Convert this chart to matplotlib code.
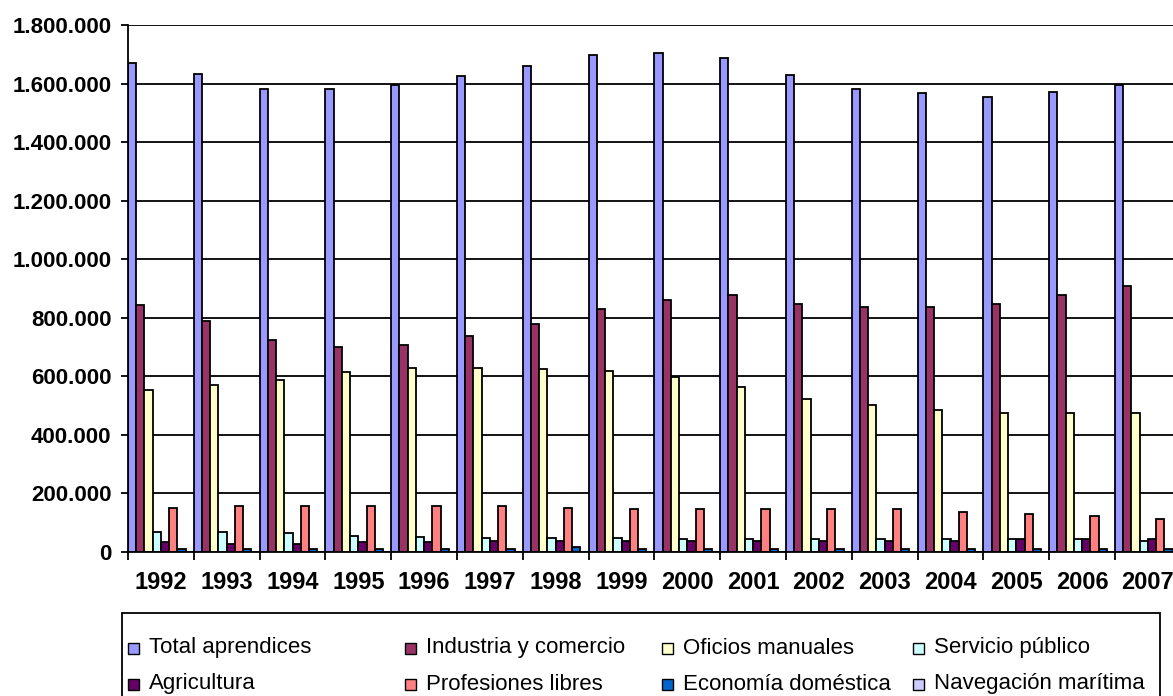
import numpy as np
import matplotlib
matplotlib.use("Agg")
import matplotlib.pyplot as plt
from matplotlib.patches import Rectangle

years = ["1992", "1993", "1994", "1995", "1996", "1997", "1998", "1999",
         "2000", "2001", "2002", "2003", "2004", "2005", "2006", "2007"]

series_names = ["Total aprendices", "Industria y comercio", "Oficios manuales",
                "Servicio público", "Agricultura", "Profesiones libres",
                "Economía doméstica", "Navegación marítima"]

total_aprendices = [1671000, 1633000, 1583000, 1583000, 1594000, 1627000, 1660000, 1699000,
                    1704000, 1688000, 1629000, 1583000, 1567000, 1556000, 1573000, 1594000]
industria_comercio = [843000, 788000, 723000, 701000, 706000, 738000, 777000, 831000,
                      859000, 877000, 848000, 838000, 838000, 848000, 877000, 909000]
oficios_manuales = [553000, 569000, 586000, 613000, 629000, 629000, 624000, 619000,
                    596000, 564000, 523000, 503000, 485000, 474000, 474000, 474000]
servicio_publico = [69000, 69000, 64000, 54000, 49000, 47000, 47000, 47000,
                    43000, 43000, 43000, 43000, 43000, 43000, 43000, 37000]
agricultura = [32000, 26000, 26000, 32000, 32000, 37000, 37000, 37000,
               37000, 37000, 37000, 38000, 37000, 43000, 43000, 43000]
profesiones_libres = [150000, 156000, 156000, 156000, 156000, 155000, 150000, 146000,
                      145000, 145000, 145000, 145000, 135000, 129000, 122000, 112000]
economia_domestica = [10000, 10000, 10000, 10000, 10000, 10000, 16000, 10000,
                      10000, 10000, 10000, 10000, 10000, 10000, 10000, 10000]
navegacion_maritima = [0, 0, 0, 0, 0, 0, 0, 0, 0, 0, 0, 0, 0, 0, 0, 0]

series_values = [total_aprendices, industria_comercio, oficios_manuales, servicio_publico,
                 agricultura, profesiones_libres, economia_domestica, navegacion_maritima]
colors = ["#9999FF", "#993366", "#FFFFCC", "#CCFFFF", "#660066", "#FF8080",
          "#0066CC", "#CCCCFF"]

y_ticks = list(range(0, 1800001, 200000))

plt.rcParams['font.family'] = ['Liberation Sans', 'DejaVu Sans']

W, H = 1173, 696
fig = plt.figure(figsize=(W / 100, H / 100), dpi=100)
ax_left = 128 / W
ax_bottom = (H - 551.7) / H
ax_height = (551.7 - 25.2) / H
ax_width = (16 * 65.8) / W
ax = fig.add_axes([ax_left, ax_bottom, ax_width, ax_height])

n = len(series_values)
x = np.arange(len(years))
bw = 1.0 / n
for j, (vals, c) in enumerate(zip(series_values, colors)):
    ax.bar(x + (j - (n - 1) / 2) * bw, vals, width=bw, color=c,
           edgecolor="black", linewidth=1.3, zorder=3, label=series_names[j])

ax.set_xlim(-0.5, len(years) - 0.5)
ax.set_ylim(0, 1800000)
ax.set_yticks(y_ticks)
ax.set_yticklabels([f"{v:,}".replace(",", ".") for v in y_ticks],
                   fontsize=16, fontweight="bold")
ax.set_xticks(x)
ax.set_xticklabels(years, fontsize=17, fontweight="bold")
ax.set_xticks(np.arange(-0.5, len(years)), minor=True)
ax.tick_params(axis="x", which="major", length=0, pad=14)
ax.tick_params(axis="x", which="minor", length=6, width=1.3, direction="out")
ax.tick_params(axis="y", length=5, width=1.3, direction="out", pad=7)

ax.yaxis.grid(True, color="black", linewidth=1.3, zorder=0)
ax.set_axisbelow(True)
for s in ["top", "right"]:
    ax.spines[s].set_visible(False)
for s in ["left", "bottom"]:
    ax.spines[s].set_linewidth(1.3)
    ax.spines[s].set_zorder(4)

def fx(px):
    return px / W

def fy(py):
    return (H - py) / H

fig.patches.append(Rectangle((fx(122), fy(702)), fx(1160) - fx(122), fy(613) - fy(702),
                             transform=fig.transFigure, fill=False, edgecolor="black",
                             linewidth=1.3))
col_x = [133, 410, 667, 918]
row_y = [648, 684]
for k in range(n):
    r, cidx = divmod(k, 4)
    sx, sy = col_x[cidx], row_y[r]
    fig.patches.append(Rectangle((fx(sx - 5.5), fy(sy + 5.5)), fx(11), 11 / H,
                                 transform=fig.transFigure, facecolor=colors[k],
                                 edgecolor="black", linewidth=1.0))
    fig.text(fx(sx + 16), fy(sy), series_names[k], fontsize=16,
             va="center", ha="left")

fig.savefig("out.png", dpi=100)
